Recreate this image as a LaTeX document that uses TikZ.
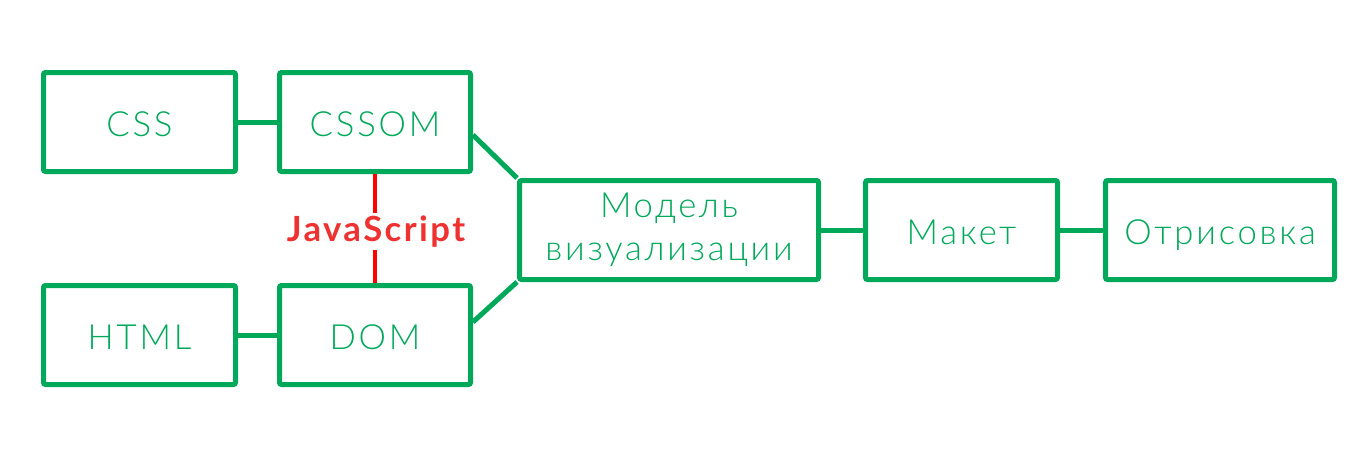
\documentclass[tikz,border=0pt]{standalone}
\usepackage{fontspec}
\setmainfont{Lato Light}[LetterSpace=8]
\newfontfamily\latobold{Lato Bold}[LetterSpace=7]
\definecolor{gr}{RGB}{0,168,89}
\definecolor{jsred}{RGB}{238,50,50}
\begin{document}
\begin{tikzpicture}[x=0.75pt,y=-0.75pt,
  box/.style={draw=gr,line width=3.75pt,rounded corners=1.5pt,text=gr,
    minimum height=74.25pt,inner sep=0pt,font=\fontsize{26}{32}\selectfont,align=center},
  low/.style={text height=24pt,text depth=1.6pt},
  link/.style={draw=gr,line width=3.75pt},
  jsline/.style={draw=red,line width=3pt}]
\useasboundingbox (0,0) rectangle (1366,468);
\node[box,low,minimum width=144pt] (css) at (139.5,122) {CSS};
\node[box,low,minimum width=143.25pt] (cssom) at (375,122) {CSSOM};
\node[box,low,minimum width=144pt] (html) at (139.5,335) {HTML};
\node[box,low,minimum width=143.25pt] (dom) at (375,335) {DOM};
\node[box,minimum width=224.25pt] (model) at (669,230) {Модель\\визуализации};
\node[box,low,minimum width=144pt] (maket) at (961.5,230) {Макет};
\node[box,low,minimum width=171.75pt] (otr) at (1220,230) {Отрисовка};
\node[text=jsred,font=\latobold\fontsize{26}{32}\selectfont,inner xsep=0pt,inner ysep=2pt] (js) at (376,231.5) {JavaScript};
\draw[link] (css) -- (cssom);
\draw[link] (html) -- (dom);
\draw[link] (model) -- (maket);
\draw[link] (maket) -- (otr);
\draw[link] ([yshift=-9.75pt]cssom.east) -- (model.north west);
\draw[link] ([yshift=9.75pt]dom.east) -- (model.south west);
\draw[jsline] (cssom.south) -- (cssom.south |- js.north);
\draw[jsline] (dom.north |- js.south) -- (dom.north);
\end{tikzpicture}
\end{document}
